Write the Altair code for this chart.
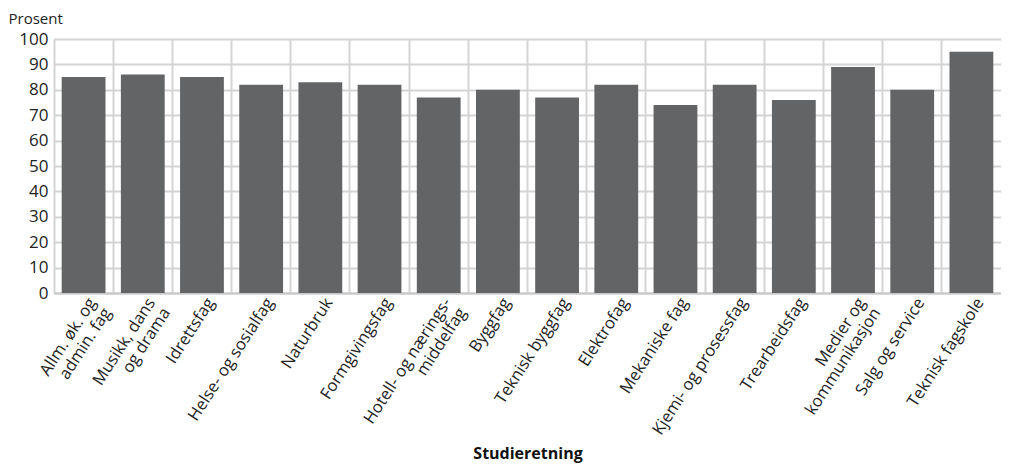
import altair as alt
import pandas as pd

categories = [
    "Allm. øk. og|admin. fag",
    "Musikk, dans|og drama",
    "Idrettsfag",
    "Helse- og sosialfag",
    "Naturbruk",
    "Formgivingsfag",
    "Hotell- og nærings-|middelfag",
    "Byggfag",
    "Teknisk byggfag",
    "Elektrofag",
    "Mekaniske fag",
    "Kjemi- og prosessfag",
    "Trearbeidsfag",
    "Medier og|kommunikasjon",
    "Salg og service",
    "Teknisk fagskole",
]
values = [85, 86, 85, 82, 83, 82, 77, 80, 77, 82, 74, 82, 76, 89, 80, 95]
y_ticks = list(range(0, 101, 10))

df = pd.DataFrame({"cat": categories, "val": values})

TOTAL_W, TOTAL_H = 993, 458

chart = (
    alt.Chart(df)
    .mark_bar(width=alt.RelativeBandSize(0.74), color="#636466")
    .encode(
        x=alt.X(
            "cat:N",
            sort=None,
            scale=alt.Scale(paddingInner=0, paddingOuter=0),
            axis=alt.Axis(
                title="Studieretning",
                titleFontWeight="bold",
                titleFontSize=16,
                titleColor="#111",
                titlePadding=8,
                labelAngle=-57,
                labelAlign="right",
                labelBaseline="top",
                labelFontSize=16.5,
                labelColor="#222",
                labelExpr="split(datum.label, '|')",
                labelOffset=2,
                labelPadding=2,
                labelLineHeight=18,
                bandPosition=0,
                grid=True,
                gridColor="#d4d4d4",
                gridWidth=2,
                ticks=False,
                domain=True,
                domainColor="#c8c8c8",
                domainWidth=2,
            ),
        ),
        y=alt.Y(
            "val:Q",
            scale=alt.Scale(domain=[0, 100]),
            axis=alt.Axis(
                values=y_ticks,
                title="Prosent",
                titleAngle=0,
                titleAlign="left",
                titleBaseline="bottom",
                titleX=-46,
                titleY=-13,
                titleFontWeight="normal",
                titleFontSize=15,
                titleColor="#222",
                labelFontSize=17,
                labelColor="#222",
                labelPadding=6,
                grid=True,
                gridColor="#d4d4d4",
                gridWidth=2,
                ticks=False,
                domain=False,
            ),
        ),
    )
    .properties(
        width=TOTAL_W,
        height=TOTAL_H,
        padding={"left": 0, "top": 3, "right": 0, "bottom": 4},
        autosize=alt.AutoSizeParams(type="fit", contains="padding"),
    )
    .configure_view(stroke="#d4d4d4", strokeWidth=2)
    .configure(font="Open Sans")
)

chart.save("out.html", embed_options={"renderer": "svg", "actions": False})
